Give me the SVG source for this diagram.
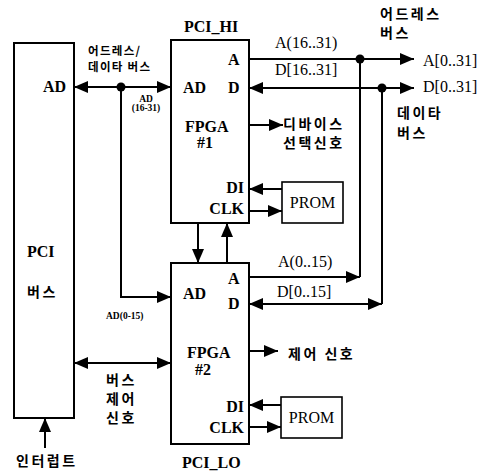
<svg xmlns="http://www.w3.org/2000/svg" width="499" height="472" viewBox="0 0 499 472">
<style>
.box{fill:#fff;stroke:#000;stroke-width:2}
.prom{fill:#fff;stroke:#000;stroke-width:1.6}
.ln{fill:none;stroke:#000;stroke-width:2}
.t{font-family:"Liberation Serif","Times New Roman",serif;font-size:16px;font-weight:bold;fill:#000}
.s{font-family:"Liberation Serif","Times New Roman",serif;font-size:16px;fill:#000}
.xs{font-family:"Liberation Serif","Times New Roman",serif;font-size:9.5px;font-weight:bold;fill:#000}
.k{font-family:"Noto Sans CJK KR","Noto Sans",sans-serif;font-size:14px;font-weight:bold;fill:#000;letter-spacing:2.5px}
.ks{font-family:"Noto Sans CJK KR","Noto Sans",sans-serif;font-size:11.5px;font-weight:bold;fill:#000;letter-spacing:1.3px}
</style>
<defs>
<marker id="ah" markerUnits="userSpaceOnUse" markerWidth="14" markerHeight="12" refX="14" refY="6" orient="auto-start-reverse">
<path d="M0,0 L14,6 L0,12 Z" fill="#000"/>
</marker>
</defs>

<g id="pci-bus">
<rect class="box" x="14" y="43" width="60" height="375"/>
<text class="t" x="43" y="92">AD</text>
<text class="t" x="27" y="257" font-weight="normal">PCI</text>
<text class="k" x="27" y="297">버스</text>
</g>

<g id="fpga1">
<rect class="box" x="171" y="40" width="78" height="183"/>
<text class="t" x="184" y="32" font-weight="normal">PCI_HI</text>
<text class="t" x="228" y="65">A</text>
<text class="t" x="183" y="93">AD</text>
<text class="t" x="228" y="93">D</text>
<text class="t" x="185" y="132">FPGA</text>
<text class="t" x="197" y="148">#1</text>
<text class="t" x="244" y="193" text-anchor="end">DI</text>
<text class="t" x="244" y="214" text-anchor="end">CLK</text>
</g>

<g id="fpga2">
<rect class="box" x="171" y="263" width="78" height="181"/>
<text class="t" x="182" y="468" font-weight="normal">PCI_LO</text>
<text class="t" x="228" y="284">A</text>
<text class="t" x="183" y="299">AD</text>
<text class="t" x="228" y="309">D</text>
<text class="t" x="187" y="358">FPGA</text>
<text class="t" x="195" y="375">#2</text>
<text class="t" x="244" y="412" text-anchor="end">DI</text>
<text class="t" x="244" y="433" text-anchor="end">CLK</text>
</g>

<g id="prom1">
<rect class="prom" x="282" y="182" width="61" height="41"/>
<text class="s" x="312.5" y="208" text-anchor="middle">PROM</text>
</g>

<g id="prom2">
<rect class="prom" x="281" y="397" width="61" height="41"/>
<text class="s" x="311.5" y="423" text-anchor="middle">PROM</text>
</g>

<g id="connectors">
<path class="ln" d="M74,87 H171" marker-start="url(#ah)" marker-end="url(#ah)"/>
<circle cx="121" cy="87" r="4.5"/>
<path class="ln" d="M121,87 V297 H171" marker-end="url(#ah)"/>
<path class="ln" d="M249,59 H414" marker-end="url(#ah)"/>
<circle cx="360" cy="59" r="4.5"/>
<path class="ln" d="M249,88 H414" marker-start="url(#ah)" marker-end="url(#ah)"/>
<circle cx="382" cy="88" r="4.5"/>
<path class="ln" d="M360,59 V277"/>
<path class="ln" d="M249,277 H360" marker-end="url(#ah)"/>
<path class="ln" d="M382,88 V304"/>
<path class="ln" d="M249,304 H382" marker-start="url(#ah)" marker-end="url(#ah)"/>
<path class="ln" d="M249,125 H283" marker-end="url(#ah)"/>
<path class="ln" d="M282,189 H249" marker-end="url(#ah)"/>
<path class="ln" d="M249,211 H282" marker-end="url(#ah)"/>
<path class="ln" d="M198,223 V263" marker-end="url(#ah)"/>
<path class="ln" d="M227,263 V223" marker-end="url(#ah)"/>
<path class="ln" d="M249,351 H278" marker-end="url(#ah)"/>
<path class="ln" d="M281,405 H249" marker-end="url(#ah)"/>
<path class="ln" d="M249,427 H281" marker-end="url(#ah)"/>
<path class="ln" d="M74,363 H171" marker-start="url(#ah)" marker-end="url(#ah)"/>
<path class="ln" d="M45,448 V418" marker-end="url(#ah)"/>
</g>

<g id="labels">
<text class="ks" x="88" y="55">어드레스/</text>
<text class="ks" x="88" y="71">데이타 버스</text>
<text class="xs" x="146" y="102" text-anchor="middle">AD</text>
<text class="xs" x="146" y="111" text-anchor="middle">(16-31)</text>
<text class="xs" x="106" y="319">AD(0-15)</text>
<text class="s" x="275" y="48">A(16..31)</text>
<text class="s" x="275" y="75">D[16..31]</text>
<text class="s" x="423" y="66">A[0..31]</text>
<text class="s" x="423" y="92">D[0..31]</text>
<text class="k" x="380" y="19">어드레스</text>
<text class="k" x="380" y="38">버스</text>
<text class="k" x="397" y="118">데이타</text>
<text class="k" x="397" y="138">버스</text>
<text class="k" x="283" y="129">디바이스</text>
<text class="k" x="283" y="148">선택신호</text>
<text class="s" x="278" y="267">A(0..15)</text>
<text class="s" x="277" y="297">D[0..15]</text>
<text class="k" x="288" y="359">제어 신호</text>
<text class="k" x="106" y="385">버스</text>
<text class="k" x="106" y="404">제어</text>
<text class="k" x="106" y="423">신호</text>
<text class="k" x="16" y="466">인터럽트</text>
</g>
</svg>
